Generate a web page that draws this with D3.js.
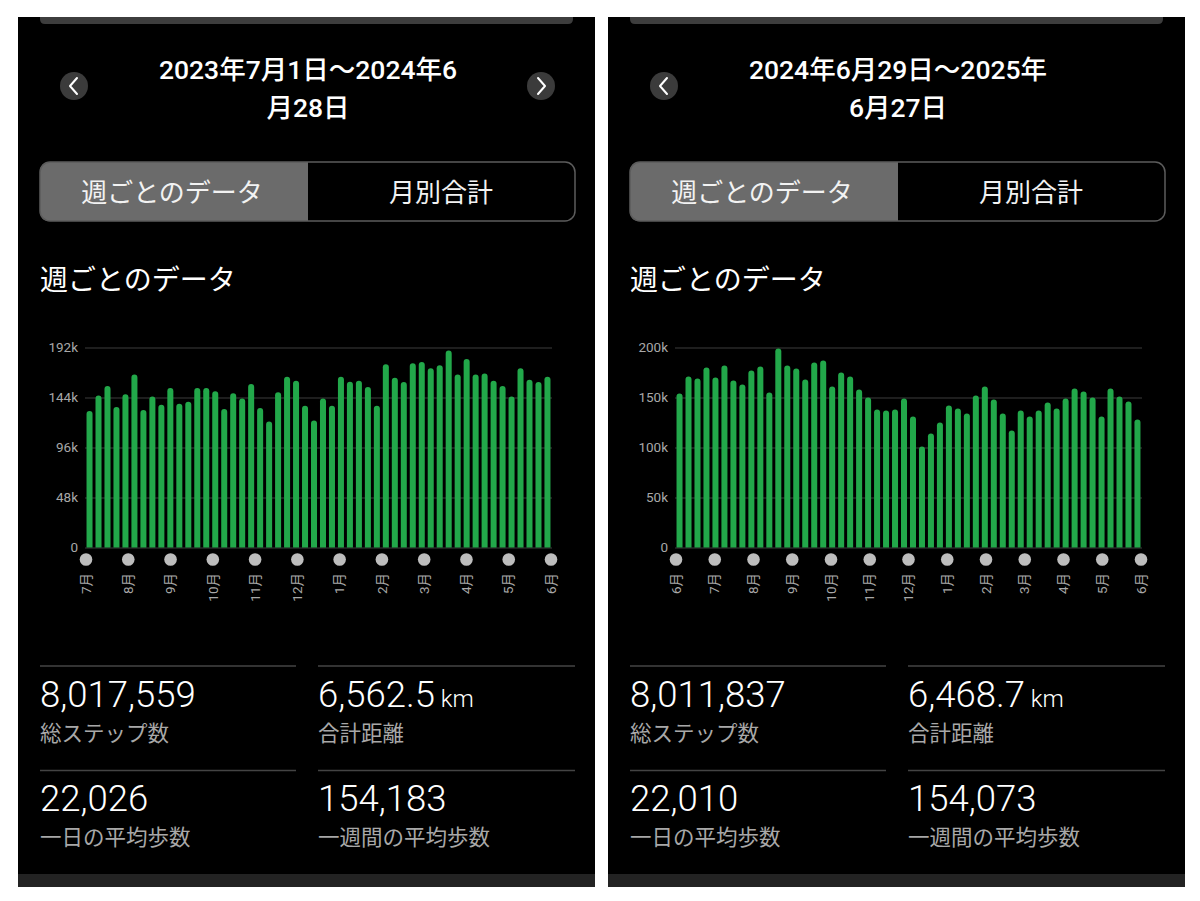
<!DOCTYPE html>
<html lang="ja">
<head>
<meta charset="utf-8"/>
<title>週ごとのデータ</title>
<script src="https://d3js.org/d3.v7.min.js"></script>
<style>
  html, body { margin: 0; padding: 0; background: #fff; }
  svg { display: block; }
  text { font-family: Roboto, "Noto Sans CJK JP", sans-serif; }
</style>
</head>
<body>
<div id="chart"></div>

<script>
// weekly step totals, thousands
const stepsA = [131,146,155,135,147,166,132,145,137,153,138,140,153,153,150,133,148,143,157,134,
                121,149,164,160,136,122,143,136,164,159,160,154,136,176,163,159,177,178,172,175,
                189,166,181,166,167,160,155,145,172,161,159,164]
const stepsB = [154,171,169,180,170,182,167,163,177,181,155,199,182,179,168,185,187,161,175,171,
                158,150,138,137,138,149,131,101,114,125,142,139,134,152,161,148,134,117,137,131,
                137,145,139,149,159,156,150,131,159,151,146,128]

const ticksA = [0, 48, 96, 144, 192]
const tickLabelsA = ["0", "48k", "96k", "144k", "192k"]
const ticksB = [0, 50, 100, 150, 200]
const tickLabelsB = ["0", "50k", "100k", "150k", "200k"]

const monthsA = ["7月","8月","9月","10月","11月","12月","1月","2月","3月","4月","5月","6月"]
const monthsB = ["6月","7月","8月","9月","10月","11月","12月","1月","2月","3月","4月","5月","6月"]

const titleA = ["2023年7月1日～2024年6", "月28日"]
const titleB = ["2024年6月29日～2025年", "6月27日"]

const statsA = ["8,017,559", "6,562.5", "22,026", "154,183"]
const statsB = ["8,011,837", "6,468.7", "22,010", "154,073"]
const statLabels = ["総ステップ数", "合計距離", "一日の平均歩数", "一週間の平均歩数"]
const statUnits = ["", "km", "", ""]

const tabLabels = ["週ごとのデータ", "月別合計"]
const sectionTitle = "週ごとのデータ"

const W = 1200, H = 901
const green = "#22a84a"

const svg = d3.select("#chart").append("svg")
  .attr("width", W).attr("height", H)
svg.append("rect").attr("width", W).attr("height", H).attr("fill", "#fff")

function panel(x0, cfg) {
  const g = svg.append("g").attr("transform", `translate(${x0},0)`)
  const pw = 577

  // phone background
  g.append("rect").attr("x", 0).attr("y", 17).attr("width", pw).attr("height", 857).attr("fill", "#000")
  g.append("rect").attr("x", 0).attr("y", 874).attr("width", pw).attr("height", 13).attr("fill", "#232323")
  // top strip (rounded bottom)
  g.append("path")
    .attr("d", `M22,17 H555 V19 Q555,24 550,24 H27 Q22,24 22,19 Z`)
    .attr("fill", "#3d3d3d")

  // arrows
  const arrow = (cx, dir) => {
    g.append("circle").attr("cx", cx).attr("cy", 86).attr("r", 14).attr("fill", "#3b3b3b")
    g.append("path")
      .attr("d", `M${cx + 3*dir},${78} L${cx - 4*dir},86 L${cx + 3*dir},94`)
      .attr("fill", "none").attr("stroke", "#fff").attr("stroke-width", 2)
      .attr("stroke-linecap", "round").attr("stroke-linejoin", "round")
  }
  arrow(56, 1)
  if (cfg.next) arrow(523, -1)

  // date range title
  g.selectAll("text.ttl").data(cfg.title).join("text")
    .attr("class", "ttl")
    .attr("x", 290).attr("y", (d, i) => 79 + i * 38)
    .attr("text-anchor", "middle")
    .attr("fill", "#fff").attr("font-size", 26.5).attr("font-weight", 500)
    .text(d => d)

  // segmented toggle
  g.append("path")
    .attr("d", "M32,162 H290 V221 H32 Q22,221 22,211 V172 Q22,162 32,162 Z")
    .attr("fill", "#6b6b6b")
  g.append("rect").attr("x", 22).attr("y", 162).attr("width", 535).attr("height", 59)
    .attr("rx", 10).attr("fill", "none").attr("stroke", "#5c5c5c").attr("stroke-width", 1.5)
  g.selectAll("text.tab").data(tabLabels).join("text")
    .attr("class", "tab")
    .attr("x", (d, i) => i ? 423 : 154).attr("y", 202)
    .attr("text-anchor", "middle")
    .attr("fill", "#f2f2f2").attr("font-size", 26)
    .text(d => d)

  g.append("text").attr("x", 22).attr("y", 290)
    .attr("fill", "#fff").attr("font-size", 28)
    .text(sectionTitle)

  // chart
  const left = 67, right = 534, top = 347.5, bottom = 547.5
  const y = d3.scaleLinear().domain([0, cfg.ticks[cfg.ticks.length - 1]]).range([bottom, top])
  const x = d3.scaleBand().domain(d3.range(cfg.steps.length)).range([left, right])
    .paddingInner(0.33).paddingOuter(0.17)
  const xm = d3.scalePoint().domain(cfg.months.map((d, i) => i)).range([left + 1, right - 1])

  const yAxis = d3.axisLeft(y).tickValues(cfg.ticks)
    .tickFormat((d, i) => cfg.tickLabels[i]).tickSize(-(right - left)).tickPadding(7)
  const ya = g.append("g").attr("transform", `translate(${left},0)`).call(yAxis)
  ya.select(".domain").remove()
  ya.selectAll(".tick line").attr("stroke", "#3c3c3c").attr("stroke-width", 1.2)
  ya.selectAll(".tick text").attr("fill", "#a8a8a8").attr("font-size", 13.5)
    .attr("font-family", "Roboto, sans-serif")

  const bw = x.bandwidth(), r = bw / 2
  g.append("g").selectAll("path").data(cfg.steps).join("path")
    .attr("fill", green)
    .attr("d", (d, i) => {
      const x1 = x(i), yt = y(d)
      return `M${x1},${bottom} V${yt + r} A${r},${r} 0 0 1 ${x1 + bw},${yt + r} V${bottom} Z`
    })

  // month markers
  g.append("g").selectAll("circle").data(cfg.months).join("circle")
    .attr("cx", (d, i) => xm(i)).attr("cy", 559.5).attr("r", 6.3).attr("fill", "#bdbdbd")
  g.append("g").selectAll("text").data(cfg.months).join("text")
    .attr("transform", (d, i) => `translate(${xm(i)},573) rotate(-90)`)
    .attr("text-anchor", "end").attr("dy", "0.35em")
    .attr("fill", "#a8a8a8").attr("font-size", 13.5)
    .text(d => d)

  // summary stats
  const sx = [22, 300], sy = [707, 811], ly = [741, 845], lineY = [666, 770.5]
  lineY.forEach(ly0 => {
    g.append("line").attr("x1", 22).attr("x2", 278).attr("y1", ly0).attr("y2", ly0).attr("stroke", "#444").attr("stroke-width", 1.5)
    g.append("line").attr("x1", 300).attr("x2", 557).attr("y1", ly0).attr("y2", ly0).attr("stroke", "#444").attr("stroke-width", 1.5)
  })
  cfg.stats.forEach((v, i) => {
    const cx = sx[i % 2], row = Math.floor(i / 2)
    const t = g.append("text").attr("x", cx).attr("y", sy[row])
      .attr("fill", "#fff").attr("font-size", 36.5).attr("font-weight", 300)
    t.append("tspan").text(v)
    if (statUnits[i]) t.append("tspan").attr("font-size", 24).text(" " + statUnits[i])
    g.append("text").attr("x", cx).attr("y", ly[row])
      .attr("fill", "#a8a8a8").attr("font-size", 21.5)
      .text(statLabels[i])
  })
}

panel(18, { steps: stepsA, ticks: ticksA, tickLabels: tickLabelsA,
            months: monthsA, title: titleA, stats: statsA, next: true })
panel(608, { steps: stepsB, ticks: ticksB, tickLabels: tickLabelsB,
             months: monthsB, title: titleB, stats: statsB, next: false })
</script>
</body>
</html>
